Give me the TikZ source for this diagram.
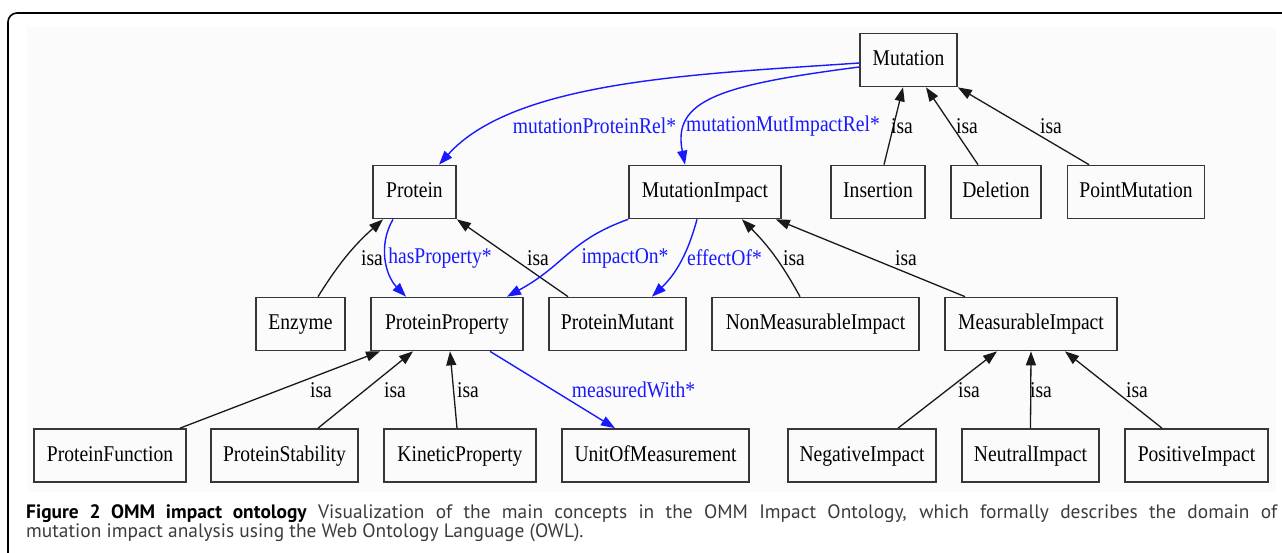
\documentclass[tikz,border=0pt]{standalone}
\usepackage{fontspec}
\setmainfont{Liberation Serif}
\newfontfamily\gvfont{Liberation Serif}[FakeStretch=0.87]
\newfontfamily\capfont{PT Sans}
\usepackage{tikz}
\usetikzlibrary{arrows.meta,positioning}
\definecolor{relblue}{RGB}{25,25,255}
\definecolor{boxgray}{RGB}{55,55,55}
\definecolor{panel}{RGB}{250,251,250}
\definecolor{captext}{RGB}{60,60,60}
\tikzstyle{k} = [rectangle, draw=boxgray, line width=1.7pt, minimum height=53pt, inner sep=0pt, text height=16pt, text depth=5pt, font=\gvfont\fontsize{22.5}{24}\selectfont]
\tikzstyle{n} = [black!90, line width=1.3pt, -{Triangle[length=14pt,width=10pt]}]
\tikzstyle{h} = [relblue, line width=1.4pt, -{Triangle[length=14pt,width=10pt]}]
\tikzstyle{l} = [inner sep=0pt, font=\gvfont\fontsize{22.5}{24}\selectfont]
\tikzstyle{lh} = [l, text=relblue]
\tikzstyle{cp} = [anchor=base west, inner sep=0pt, font=\capfont\fontsize{19.4}{22}\selectfont]

\begin{document}
\begin{tikzpicture}[x=1pt, y=-1pt]
		\useasboundingbox (0,0) rectangle (1282,552);
		\fill[panel] (27,27) rectangle (1276,492);
		\draw[line width=1.6pt, rounded corners=9pt] (8,560) -- (8,13) -- (1290,13);

		% classes
		\node[k, minimum width=97pt]  (mutation)   at (908.5,60)   {Mutation};
		\node[k, minimum width=83pt]  (protein)    at (414.5,192)  {Protein};
		\node[k, minimum width=152pt] (mutimpact)  at (705,192)    {MutationImpact};
		\node[k, minimum width=94pt]  (insertion)  at (878,192)    {Insertion};
		\node[k, minimum width=90pt]  (deletion)   at (996,192)    {Deletion};
		\node[k, minimum width=137pt] (pointmut)   at (1136,192)   {PointMutation};
		\node[k, minimum width=89pt]  (enzyme)     at (300.5,324)  {Enzyme};
		\node[k, minimum width=152pt] (protprop)   at (447,324)    {ProteinProperty};
		\node[k, minimum width=137pt] (protmutant) at (617.5,324)  {ProteinMutant};
		\node[k, minimum width=207pt] (nonmeas)    at (815.5,324)  {NonMeasurableImpact};
		\node[k, minimum width=172pt] (meas)       at (1031,324)   {MeasurableImpact};
		\node[k, minimum width=152pt] (protfunc)   at (110,455.5)  {ProteinFunction};
		\node[k, minimum width=147pt] (protstab)   at (284.5,455.5) {ProteinStability};
		\node[k, minimum width=152pt] (kinetic)    at (460,455.5)  {KineticProperty};
		\node[k, minimum width=187pt] (unit)       at (655.5,455.5) {UnitOfMeasurement};
		\node[k, minimum width=148pt] (negative)   at (862,455.5)  {NegativeImpact};
		\node[k, minimum width=137pt] (neutral)    at (1030.5,455.5) {NeutralImpact};
		\node[k, minimum width=143pt] (positive)   at (1196.5,455.5) {PositiveImpact};

		% isa links
		\draw[n] ([xshift=6pt]insertion.north) -- ([xshift=-5.5pt]mutation.south);
		\draw[n] ([xshift=-18pt]deletion.north) -- ([xshift=17.5pt]mutation.south);
		\draw[n] ([xshift=-47pt]pointmut.north) -- (mutation.south east);
		\draw[n] ([xshift=17.5pt]enzyme.north) to[bend left=8] ([xshift=-31.5pt]protein.south);
		\draw[n] ([xshift=-49.5pt]protmutant.north) -- (protein.south east);
		\draw[n] ([xshift=-15.5pt]nonmeas.north) to[bend right=8] ([xshift=37pt]mutimpact.south);
		\draw[n] ([xshift=-66pt]meas.north) -- ([xshift=-6pt]mutimpact.south east);
		\draw[n] ([xshift=70pt]protfunc.north) -- ([xshift=-67pt]protprop.south);
		\draw[n] ([xshift=33.5pt]protstab.north) -- ([xshift=-34pt]protprop.south);
		\draw[n] ([xshift=-3pt]kinetic.north) -- ([xshift=3pt]protprop.south);
		\draw[n] ([xshift=36pt]negative.north) -- ([xshift=-34pt]meas.south);
		\draw[n] (neutral.north) -- (meas.south);
		\draw[n] ([xshift=-34.5pt]positive.north) -- ([xshift=34pt]meas.south);

		% object properties
		\draw[h] ([yshift=-3pt]mutation.west) .. controls (700,74) and (515,80) .. ([xshift=24.5pt]protein.north);
		\draw[h] ([yshift=-7pt]mutation.west) .. controls (720,85) and (672,100) .. ([xshift=-20pt]mutimpact.north);
		\draw[h] ([xshift=-21.5pt]protein.south) .. controls (378,245) and (385,275) .. ([xshift=-41pt]protprop.north);
		\draw[h] (mutimpact.south west) .. controls (570,240) and (565,265) .. ([xshift=60pt]protprop.north);
		\draw[h] ([xshift=-8pt]mutimpact.south) .. controls (690,245) and (680,270) .. ([xshift=34.5pt]protmutant.north);
		\draw[h] ([xshift=43pt]protprop.south) -- ([xshift=-40.5pt]unit.north);

		% labels
		\node[lh] (lmpr)  at (594.5,126) {mutationProteinRel*};
		\node[lh] (lmmir) at (783,126)   {mutationMutImpactRel*};
		\node[lh] (lhp)   at (440,258)   {hasProperty*};
		\node[lh] (lio)   at (625,258)   {impactOn*};
		\node[lh] (leo)   at (724.5,258) {effectOf*};
		\node[lh] (lmw)   at (633.5,390) {measuredWith*};
		\node[l] (i1)  at (902,126)  {isa};
		\node[l] (i2)  at (967,126)  {isa};
		\node[l] (i3)  at (1051,126) {isa};
		\node[l] (i4)  at (372,258)  {isa};
		\node[l] (i5)  at (538,258)  {isa};
		\node[l] (i6)  at (794,258)  {isa};
		\node[l] (i7)  at (906,258)  {isa};
		\node[l] (i8)  at (321,390)  {isa};
		\node[l] (i9)  at (395,390)  {isa};
		\node[l] (i10) at (468,390)  {isa};
		\node[l] (i11) at (969,390)  {isa};
		\node[l] (i12) at (1041,390) {isa};
		\node[l] (i13) at (1137,390) {isa};

		% caption
		\node[cp] (cap1) at (26,518) {\makebox[1251pt][s]{\textbf{Figure 2 OMM impact ontology} \color{captext}Visualization of the main concepts in the OMM Impact Ontology, which formally describes the domain of}};
		\node[cp, text=captext] (cap2) at (26,537) {mutation impact analysis using the Web Ontology Language (OWL).};
	\end{tikzpicture}
\end{document}
